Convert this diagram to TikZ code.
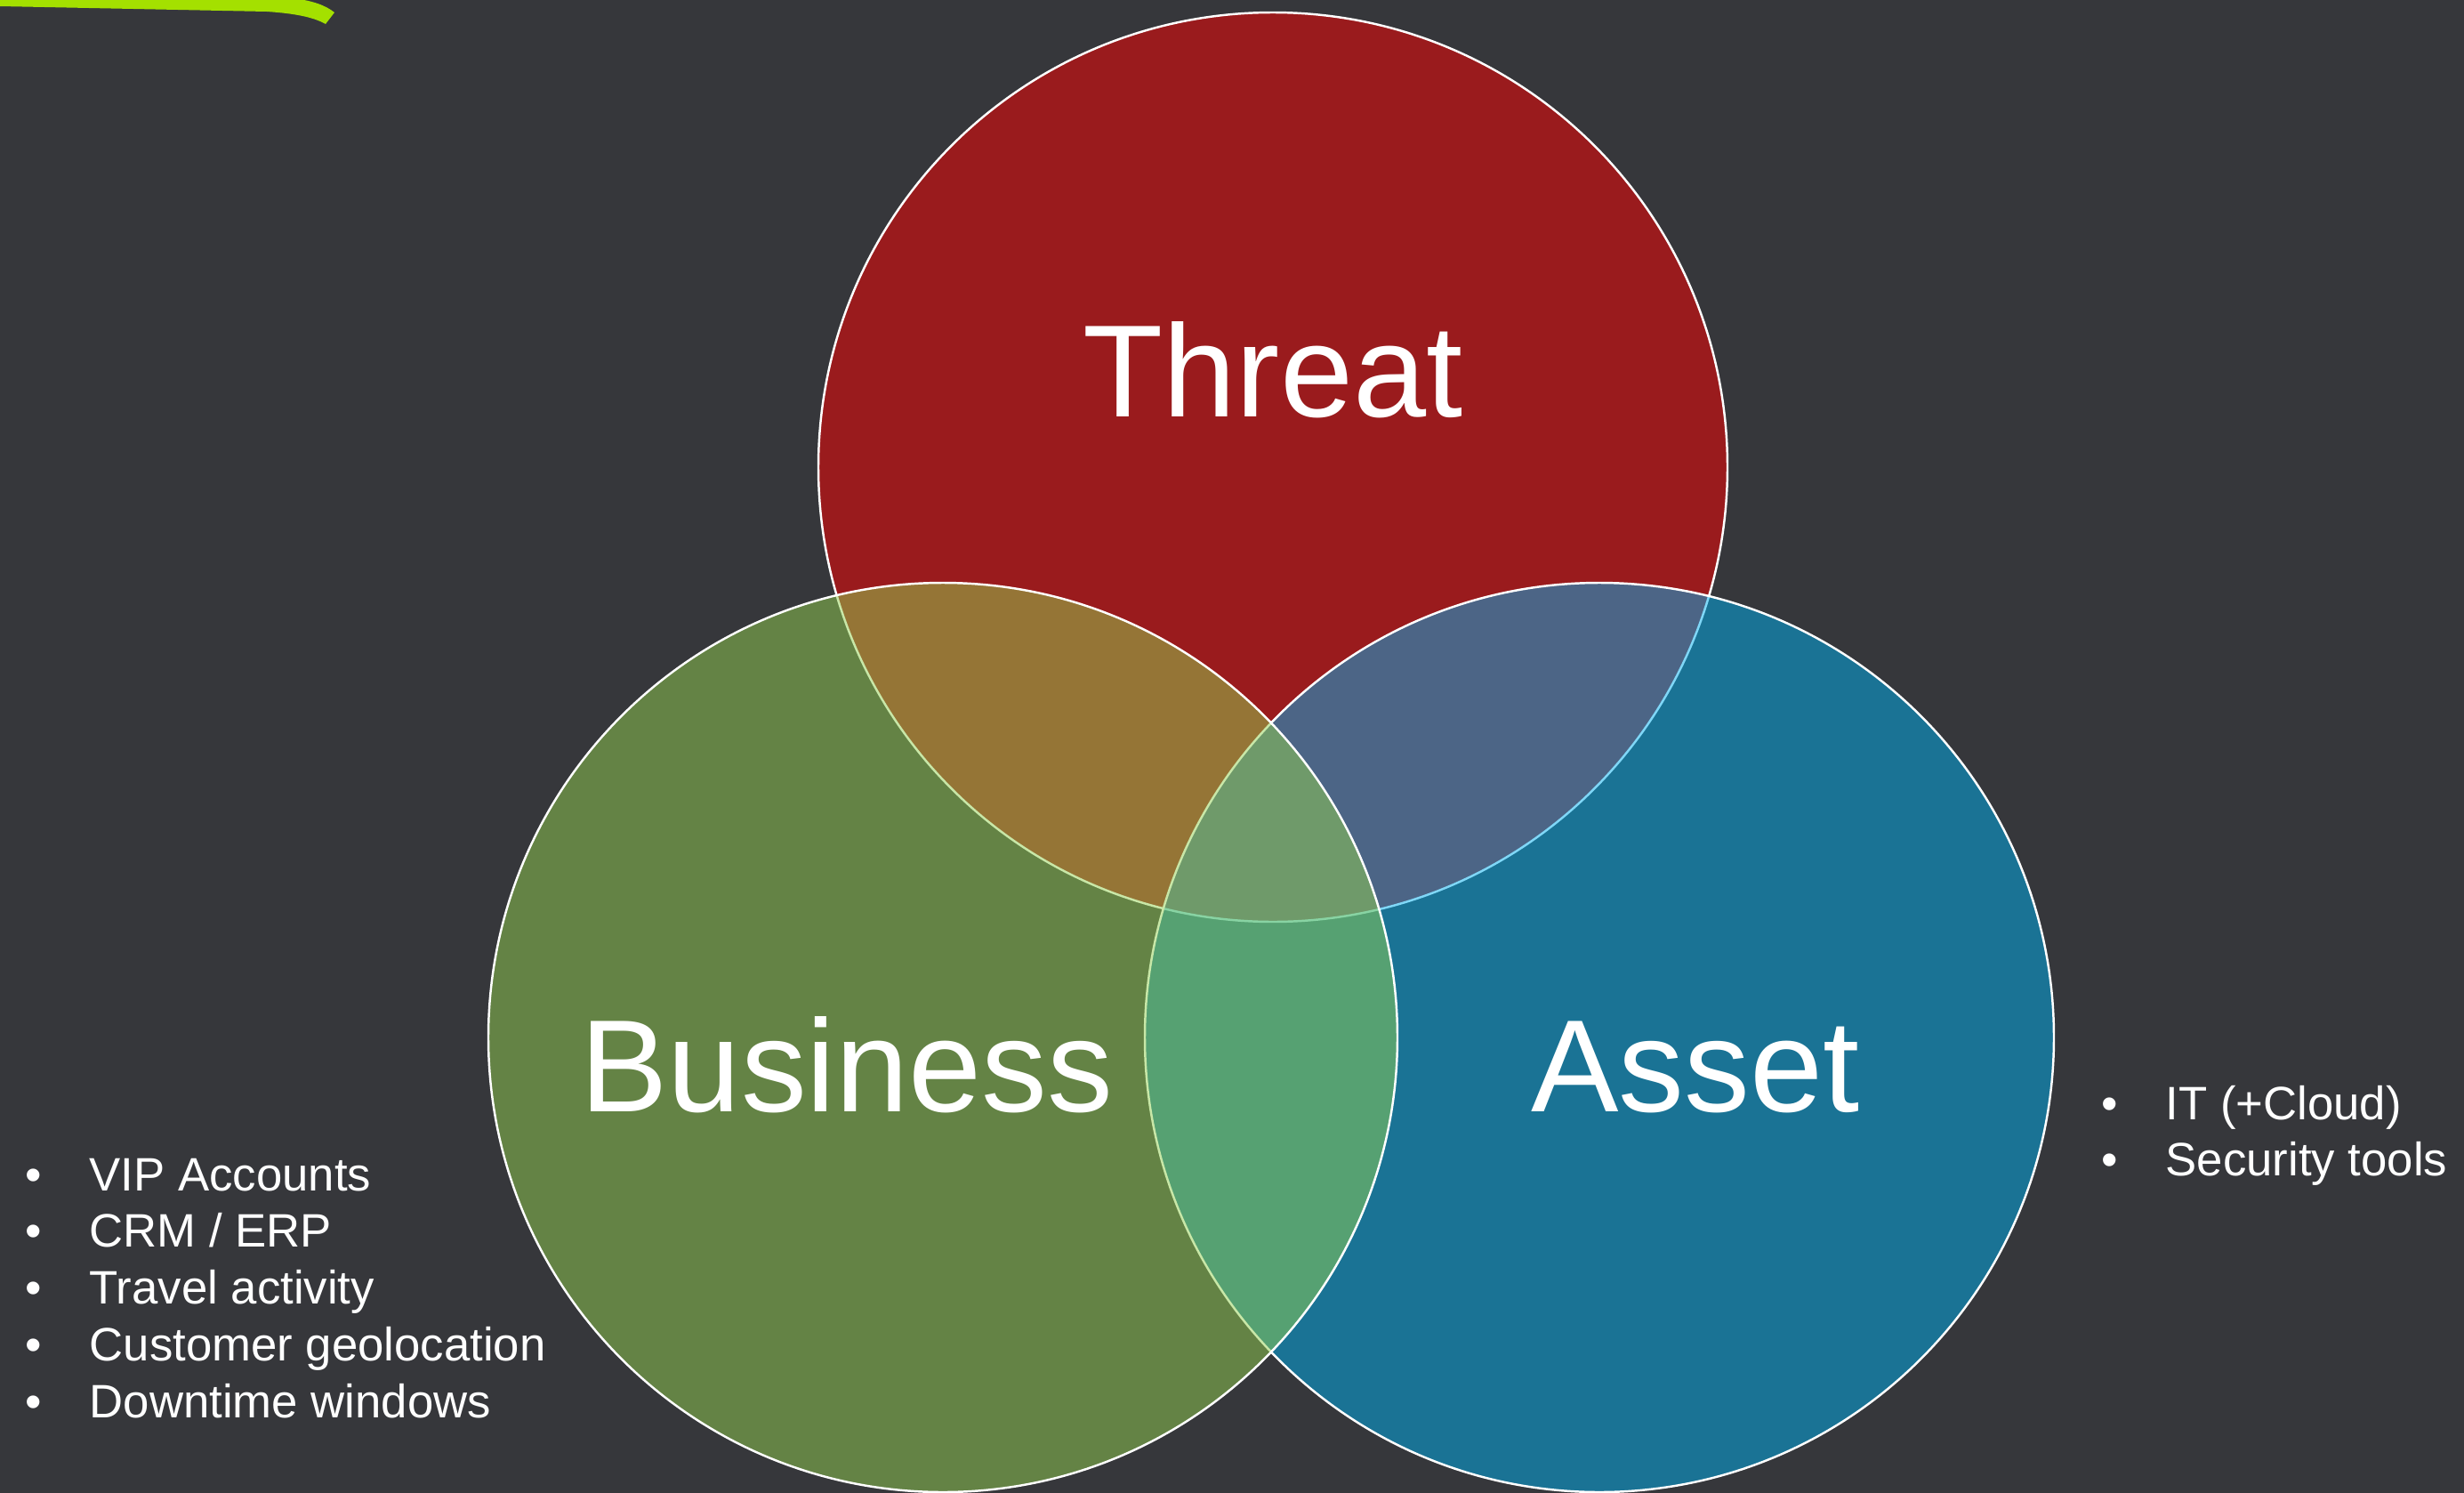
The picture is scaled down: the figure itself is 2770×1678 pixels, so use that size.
\documentclass[tikz,border=0pt]{standalone}
\usepackage{fontspec}
\setmainfont{Liberation Sans}
\usepackage{xcolor}

\definecolor{slide}{HTML}{36373B}
\definecolor{threatred}{HTML}{FF0000}
\definecolor{assetblue}{HTML}{00B0F0}
\definecolor{bizgreen}{HTML}{92D050}
\definecolor{swoosh}{HTML}{A4E000}

% bullet line of a list
\newcommand{\bitem}[1]{\makebox[7.2mm][l]{\textbullet}#1}

\tikzset{
  venn/.style={draw=white, line width=0.7pt, fill opacity=0.5},
  biglabel/.style={text=white, inner sep=0pt, anchor=base, font=\fontsize{42}{50}\selectfont},
  listtext/.style={text=white, inner sep=0pt, anchor=base west, font=\fontsize{15}{18.2}\selectfont}
}

\begin{document}
\begin{tikzpicture}[x=0.1mm, y=-0.1mm]% one unit = one pixel, y grows downwards
\fill[slide] (0,0) rectangle (2770,1678);
\useasboundingbox (0,0) rectangle (2770,1678);
% corner swoosh
\fill[swoosh] (0,-5) -- (330,-2) .. controls (352,1) and (366,6) .. (376,14) -- (366,27) .. controls (352,19) and (330,15) .. (300,13) -- (0,7) -- cycle;

% the three sets: red, then blue, then green on top
\draw[venn, fill=threatred] (1431,525) circle (51.1mm);
\draw[venn, fill=assetblue] (1798,1166) circle (51.1mm);
\draw[venn, fill=bizgreen] (1060,1166) circle (51.1mm);

\node[biglabel] (threat) at (1431,468) {Threat};
\node[biglabel] (business) at (952,1249) {Business};
\node[biglabel] (asset) at (1906,1249) {Asset};

% what goes into each set
\node[listtext] (bizlist) at (28,1338) {\begin{tabular}[t]{@{}l@{}}
\bitem{VIP Accounts}\\
\bitem{CRM / ERP}\\
\bitem{Travel activity}\\
\bitem{Customer geolocation}\\
\bitem{Downtime windows}
\end{tabular}};
\node[listtext] (assetlist) at (2362,1258) {\begin{tabular}[t]{@{}l@{}}
\bitem{IT (+Cloud)}\\
\bitem{Security tools}
\end{tabular}};
\end{tikzpicture}
\end{document}
